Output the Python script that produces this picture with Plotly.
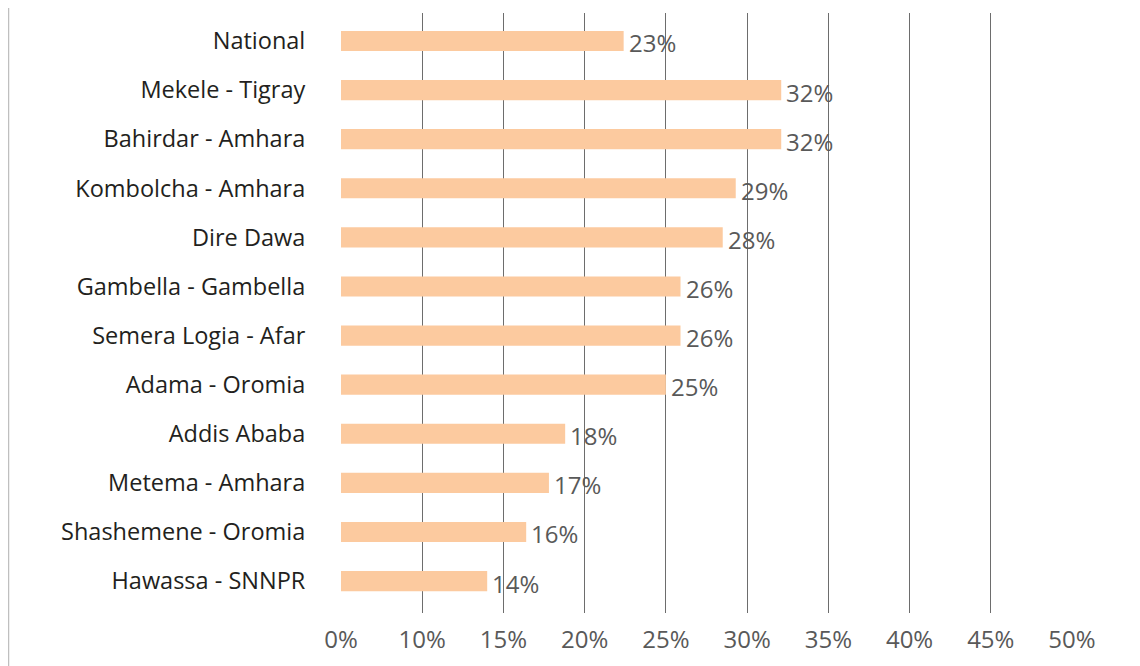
import plotly.graph_objects as go

categories = ["National", "Mekele - Tigray", "Bahirdar - Amhara", "Kombolcha - Amhara",
              "Dire Dawa", "Gambella - Gambella", "Semera Logia - Afar", "Adama - Oromia",
              "Addis Ababa", "Metema - Amhara", "Shashemene - Oromia", "Hawassa - SNNPR"]
values = [22.4, 32.1, 32.1, 29.3, 28.5, 25.9, 25.9, 25.0, 18.8, 17.8, 16.4, 14.0]
value_labels = ["23%", "32%", "32%", "29%", "28%", "26%", "26%", "25%", "18%", "17%", "16%", "14%"]
tick_values = [5, 10, 15, 20, 25, 30, 35, 40, 45, 50]
tick_labels = ["0%", "10%", "15%", "20%", "25%", "30%", "35%", "40%", "45%", "50%"]

FONT = "Open Sans"
fig = go.Figure()
fig.add_trace(go.Bar(
    x=values, y=categories, orientation="h",
    marker=dict(color="#FCCA9F", line=dict(width=0)),
    hoverinfo="skip",
))

for v, c, t in zip(values, categories, value_labels):
    fig.add_annotation(x=v, y=c, text=t, showarrow=False, xanchor="left",
                       xshift=3, yshift=-2,
                       font=dict(family=FONT, size=24, color="#595959"))

L, T, W, H = 333, 5, 731, 600
fig.update_layout(
    width=1140, height=666,
    margin=dict(l=L, r=1140 - L - W, t=T, b=666 - T - H),
    paper_bgcolor="white", plot_bgcolor="white",
    showlegend=False,
    bargap=0.59,
    xaxis=dict(range=[5, 50], tickvals=tick_values, ticktext=tick_labels,
               showgrid=True, gridcolor="#6D6D6D", gridwidth=1,
               zeroline=False, showline=False,
               ticks="outside", ticklen=5, tickcolor="rgba(0,0,0,0)",
               tickfont=dict(family=FONT, size=24, color="#595959")),
    yaxis=dict(range=[11.65, -0.57], showgrid=False, zeroline=False, showline=False,
               ticks="outside", ticklen=30, tickcolor="rgba(0,0,0,0)",
               tickfont=dict(family=FONT, size=23.5, color="#231F20")),
    shapes=[dict(type="line", xref="paper", yref="paper",
                 x0=(0.5 - L) / W, x1=(0.5 - L) / W,
                 y0=-(666 - T - H) / H, y1=1 + T / H,
                 line=dict(color="#BFBFBF", width=1.5))],
)

fig.write_html("out.html")
